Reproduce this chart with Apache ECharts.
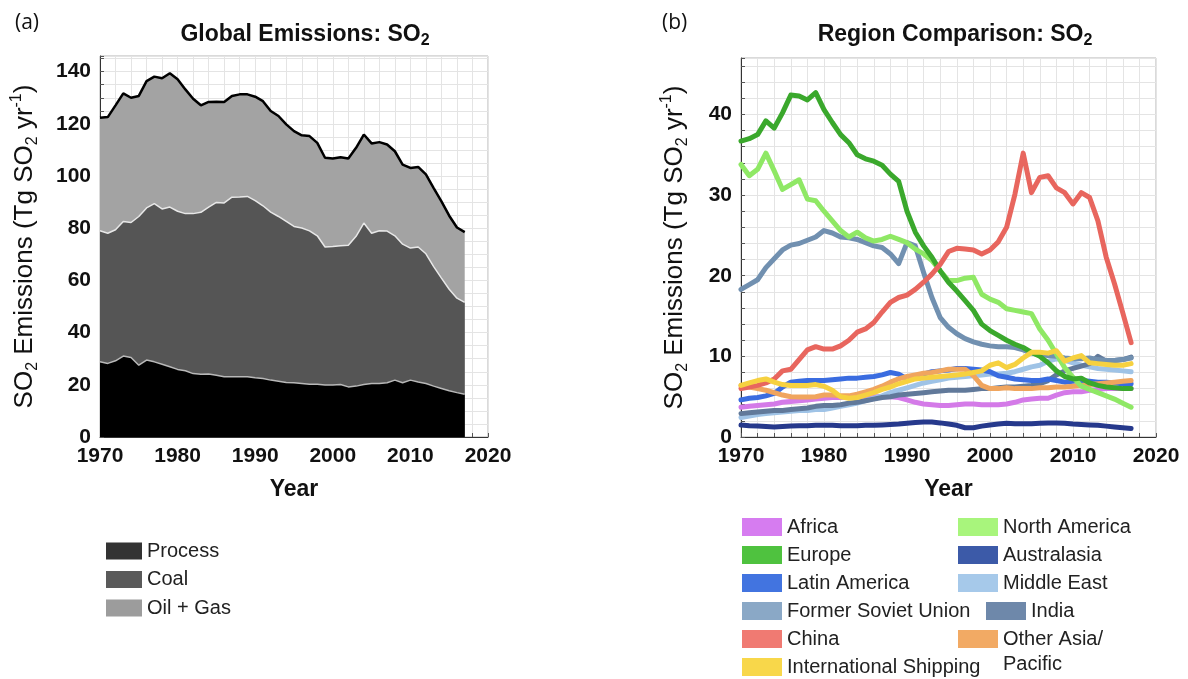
<!DOCTYPE html>
<html><head><meta charset="utf-8">
<script src="https://cdn.jsdelivr.net/npm/echarts@6/dist/echarts.min.js"></script>
<style>html,body{margin:0;padding:0;background:#fff}#c{width:1188px;height:679px}</style>
</head><body><div id="c"></div>
<script>
const years = [1970,1971,1972,1973,1974,1975,1976,1977,1978,1979,1980,1981,1982,1983,1984,1985,1986,1987,1988,1989,1990,1991,1992,1993,1994,1995,1996,1997,1998,1999,2000,2001,2002,2003,2004,2005,2006,2007,2008,2009,2010,2011,2012,2013,2014,2015,2016,2017];

// Panel (a): global emissions by source (Tg SO2/yr), stacked
const processVals = [28.8,28.2,29.2,31.0,30.5,27.5,29.5,28.8,27.9,26.9,25.9,25.4,24.3,24.0,24.1,23.7,23.1,23.1,23.1,23.1,22.7,22.4,21.8,21.4,20.9,20.8,20.5,20.2,20.2,19.9,19.9,20.1,19.2,19.5,20.1,20.5,20.5,20.8,21.8,20.8,21.8,21.1,20.5,19.5,18.6,17.7,17.0,16.4];
const coalVals = [50.2,49.9,50.2,51.6,51.7,57.0,58.3,60.6,59.5,61.2,60.6,60.2,61.3,62.1,64.0,66.2,66.6,68.8,68.9,69.1,67.9,66.2,64.4,63.1,61.7,59.9,59.6,58.8,56.9,52.9,53.1,53.2,54.3,57.4,61.9,57.6,58.5,58.1,55.3,53.1,50.6,51.7,49.7,45.8,42.3,38.9,36.2,35.2];
const oilGasVals = [43.3,44.5,47.7,49.1,47.8,46.2,48.6,48.7,50.1,51.3,50.6,47.6,44.0,41.0,40.3,38.6,38.7,38.8,39.3,39.1,39.8,40.1,38.7,38.5,37.2,36.5,35.5,36.3,35.6,34.2,33.7,33.9,33.2,33.9,33.9,34.4,34.0,33.2,32.4,30.5,30.7,30.7,30.4,30.1,29.4,28.2,27.1,26.9];

// Panel (b): regions (Tg SO2/yr)
const africa = [3.7,3.8,3.9,4.0,4.1,4.3,4.4,4.5,4.6,4.7,4.8,4.9,4.9,5.0,5.0,5.0,5.0,5.0,5.0,4.9,4.6,4.3,4.1,4.0,3.9,3.9,4.0,4.1,4.1,4.0,4.0,4.0,4.1,4.3,4.6,4.7,4.8,4.8,5.2,5.5,5.6,5.6,5.8,5.9,6.0,6.0,6.0,6.0];
const europe = [36.7,37.0,37.5,39.2,38.3,40.2,42.4,42.3,41.8,42.7,40.6,39.0,37.5,36.5,35.0,34.5,34.2,33.7,32.6,31.7,28.0,25.4,23.7,22.3,20.6,19.2,18.1,16.9,15.7,14.0,13.2,12.6,12.0,11.5,11.1,10.5,10.0,9.2,8.2,7.5,7.2,7.3,6.7,6.4,6.2,6.1,6.0,6.0];
const latinAmerica = [4.6,4.8,4.9,5.1,5.4,6.2,6.8,6.9,7.0,7.0,7.0,7.1,7.2,7.3,7.3,7.4,7.5,7.7,8.0,7.8,7.2,7.5,7.8,8.1,8.2,8.3,8.5,8.5,8.4,8.3,8.1,7.6,7.4,7.2,7.1,7.0,7.0,7.2,7.0,6.8,6.9,7.0,6.9,6.8,6.8,6.7,6.6,6.6];
const formerSovietUnion = [18.3,18.9,19.5,21.0,22.1,23.2,23.8,24.0,24.4,24.8,25.6,25.3,24.8,24.7,24.5,24.1,23.7,23.5,22.7,21.5,24.1,23.7,20.4,17.3,14.8,13.6,12.8,12.2,11.8,11.5,11.3,11.2,11.2,11.1,10.8,10.4,10.2,10.1,10.0,9.8,9.7,9.7,9.8,9.6,9.5,9.5,9.6,9.8];
const china = [6.0,6.2,6.4,6.7,7.2,8.2,8.4,9.6,10.8,11.2,10.9,10.9,11.3,12.0,13.0,13.4,14.2,15.5,16.7,17.3,17.6,18.3,19.2,20.2,21.4,23.0,23.4,23.3,23.2,22.7,23.2,24.2,26.0,30.1,35.2,30.3,32.2,32.4,30.9,30.3,28.9,30.3,29.7,26.8,22.3,19.0,15.4,11.7];
const intlShipping = [6.4,6.7,7.0,7.2,6.8,6.5,6.4,6.4,6.4,6.5,6.3,5.8,5.0,4.8,4.9,5.2,5.5,5.9,6.2,6.6,6.9,7.2,7.3,7.4,7.5,7.6,7.7,7.8,8.0,8.2,8.9,9.2,8.6,9.0,9.8,10.5,10.5,10.4,10.7,9.4,9.8,10.1,9.2,9.1,9.0,8.9,8.9,9.1];
const northAmerica = [33.8,32.4,33.2,35.2,33.0,30.7,31.3,31.9,29.5,29.3,28.0,26.8,25.6,24.8,25.4,24.7,24.3,24.5,24.9,24.5,24.1,23.3,22.7,21.9,20.6,19.4,19.4,19.7,19.8,17.7,17.1,16.7,15.9,15.7,15.5,15.3,13.4,12.0,10.3,8.6,7.4,6.3,5.9,5.5,5.1,4.7,4.2,3.7];
const australasia = [1.5,1.4,1.35,1.3,1.25,1.3,1.35,1.4,1.4,1.45,1.45,1.45,1.4,1.4,1.4,1.45,1.45,1.5,1.55,1.6,1.7,1.8,1.85,1.85,1.75,1.6,1.45,1.15,1.15,1.35,1.5,1.6,1.7,1.65,1.65,1.65,1.7,1.75,1.75,1.7,1.6,1.55,1.5,1.45,1.35,1.25,1.15,1.05];
const middleEast = [2.4,2.6,2.8,2.9,3.0,3.1,3.2,3.3,3.3,3.4,3.4,3.6,3.8,4.0,4.2,4.5,4.8,5.1,5.5,5.8,6.1,6.4,6.7,6.9,7.1,7.3,7.4,7.5,7.6,7.7,7.8,7.8,7.9,8.1,8.4,8.7,8.9,9.4,9.7,9.5,9.2,8.9,8.7,8.5,8.4,8.3,8.2,8.1];
const india = [2.9,3.0,3.1,3.2,3.3,3.3,3.4,3.5,3.6,3.8,3.9,3.9,4.0,4.2,4.3,4.5,4.7,4.9,5.0,5.2,5.3,5.4,5.5,5.6,5.7,5.8,5.8,5.8,5.9,6.0,6.0,6.1,6.2,6.2,6.3,6.4,6.6,7.0,7.7,8.2,8.5,8.8,9.1,10.0,9.4,9.5,9.6,9.9];
const otherAsiaPacific = [6.4,6.2,6.0,5.8,5.5,5.2,5.0,4.95,4.95,5.0,5.2,5.2,5.1,5.1,5.3,5.6,5.9,6.3,6.8,7.2,7.5,7.7,7.9,8.0,8.2,8.4,8.4,8.4,7.6,6.4,6.0,6.0,6.1,6.0,6.0,6.0,6.1,6.1,6.2,6.2,6.3,6.4,6.5,6.6,6.7,6.8,6.9,7.0];

// tick labels
const xTickLabels = [1970,1980,1990,2000,2010,2020];
const yTickLabelsA = [0,20,40,60,80,100,120,140];
const yTickLabelsB = [0,10,20,30,40];

const FONT = "'Liberation Sans', Arial, Helvetica, sans-serif";
const pair = arr => years.map((y, i) => [y, arr[i]]);
// cumulative tops of the stacked layers (Process, Process+Coal, total)
const cumProcess = processVals.slice();
const cumCoal = processVals.map((v, i) => +(v + coalVals[i]).toFixed(2));
const cumTotal = cumCoal.map((v, i) => +(v + oilGasVals[i]).toFixed(2));

const nameRich = {
  n: {fontSize: 26, fontFamily: FONT, color: '#111', lineHeight: 32},
  s: {fontSize: 16, fontFamily: FONT, color: '#111', lineHeight: 16, verticalAlign: 'bottom'},
  p: {fontSize: 16, fontFamily: FONT, color: '#111', lineHeight: 16, verticalAlign: 'top'}
};
const titleRich = {
  n: {fontSize: 23, fontWeight: 'bold', fontFamily: FONT, color: '#111', lineHeight: 29},
  s: {fontSize: 16, fontWeight: 'bold', fontFamily: FONT, color: '#111', lineHeight: 15, verticalAlign: 'bottom'}
};
const yName = '{n|SO}{s|2}{n| Emissions (Tg SO}{s|2}{n| yr}{p|-1}{n|)}';

function xAxisCfg(gi) {
  return {
    type: 'value', gridIndex: gi, min: 1970, max: 2020, interval: 2,
    axisLine: {show: true, onZero: false, lineStyle: {color: '#333', width: 1}},
    axisTick: {show: true, inside: true, length: 4, lineStyle: {color: '#555'}},
    axisLabel: {formatter: v => xTickLabels.includes(v) ? String(v) : '', fontSize: 21, fontWeight: 'bold', color: '#111', fontFamily: FONT, margin: 9, showMinLabel: true, showMaxLabel: true},
    splitLine: {show: true, lineStyle: {color: '#e4e4e4', width: 1}},
    name: 'Year', nameLocation: 'middle', nameGap: 41,
    nameTextStyle: {fontSize: 23, fontWeight: 'bold', color: '#111', fontFamily: FONT}
  };
}
function yAxisCfg(gi, max, step, labels, gap) {
  return {
    type: 'value', gridIndex: gi, min: 0, max: max, interval: step,
    axisLine: {show: true, lineStyle: {color: '#333', width: 1}},
    axisTick: {show: true, inside: true, length: 4, lineStyle: {color: '#555'}},
    axisLabel: {formatter: v => labels.includes(v) ? String(v) : '', fontSize: 21, fontWeight: 'bold', color: '#111', fontFamily: FONT, margin: 9},
    splitLine: {show: true, lineStyle: {color: '#e4e4e4', width: 1}},
    name: yName, nameLocation: 'middle', nameGap: gap,
    nameTextStyle: {rich: nameRich}
  };
}

const regionDefs = [
  ['Africa', africa, '#d47ae8', '#d67cf0'],
  ['Australasia', australasia, '#26398c', '#3c5aa8'],
  ['Middle East', middleEast, '#9fc3e6', '#a6c9ea'],
  ['India', india, '#61799a', '#6e88aa'],
  ['Latin America', latinAmerica, '#3a6ce0', '#4274e0'],
  ['Former Soviet Union', formerSovietUnion, '#7190b0', '#8aa8c6'],
  ['Other Asia/Pacific', otherAsiaPacific, '#f0a55e', '#f2aa64'],
  ['North America', northAmerica, '#8fe865', '#a8f57c'],
  ['Europe', europe, '#3aa82c', '#4fc23f'],
  ['China', china, '#e8665e', '#f07a72'],
  ['International Shipping', intlShipping, '#f6d140', '#f8d74a']
];
const legendColor = {};
regionDefs.forEach(d => legendColor[d[0]] = d[3]);
const legItem = n => ({name: n, itemStyle: {color: legendColor[n], borderWidth: 0}});

const regionSeries = regionDefs.map(d => ({
  name: d[0], type: 'line', xAxisIndex: 1, yAxisIndex: 1, data: pair(d[1]),
  symbol: 'none', color: d[2], lineStyle: {width: 5, color: d[2], cap: 'round', join: 'round'},
  emphasis: {disabled: true}, silent: true
}));

const legendBase = {
  orient: 'vertical', padding: 0, icon: 'rect', itemWidth: 40, itemHeight: 18, itemGap: 8,
  selectedMode: false, textStyle: {fontSize: 20, fontFamily: FONT, color: '#222', lineHeight: 20}
};

const option = {
  animation: false,
  backgroundColor: '#fff',
  title: [
    {text: '(a)', left: 10, top: 8, textStyle: {fontSize: 21, fontWeight: 'normal', fontFamily: "'Open Sans', sans-serif", color: '#111'}},
    {text: '(b)', left: 657, top: 8, textStyle: {fontSize: 21, fontWeight: 'normal', fontFamily: "'Open Sans', sans-serif", color: '#111'}},
    {text: '{n|Global Emissions: SO}{s|2}', left: 300, textAlign: 'center', top: 15, textStyle: {rich: titleRich}},
    {text: '{n|Region Comparison: SO}{s|2}', left: 950, textAlign: 'center', top: 15, textStyle: {rich: titleRich}}
  ],
  grid: [
    {left: 100, top: 56, width: 388, height: 381, show: true, borderColor: '#b5b5b5', borderWidth: 1, backgroundColor: 'transparent'},
    {left: 741, top: 58, width: 415, height: 379, show: true, borderColor: '#b5b5b5', borderWidth: 1, backgroundColor: 'transparent'}
  ],
  xAxis: [xAxisCfg(0), xAxisCfg(1)],
  yAxis: [yAxisCfg(0, 146, 5, yTickLabelsA, 59), yAxisCfg(1, 47, 2, yTickLabelsB, 50)],
  legend: [
    Object.assign({}, legendBase, {left: 106, top: 541, itemWidth: 36, itemHeight: 17, itemGap: 8.5,
      data: [{name: 'Process', itemStyle: {color: '#333333'}}, {name: 'Coal', itemStyle: {color: '#5a5a5a'}}, {name: 'Oil + Gas', itemStyle: {color: '#9c9c9c'}}]}),
    Object.assign({}, legendBase, {left: 742, top: 517,
      data: ['Africa', 'Europe', 'Latin America', 'Former Soviet Union', 'China', 'International Shipping'].map(legItem)}),
    Object.assign({}, legendBase, {left: 958, top: 517,
      data: ['North America', 'Australasia', 'Middle East'].map(legItem)}),
    Object.assign({}, legendBase, {left: 986, top: 601, data: ['India'].map(legItem)}),
    Object.assign({}, legendBase, {left: 958, top: 629, data: ['Other Asia/Pacific'].map(legItem),
      formatter: n => 'Other Asia/'})
  ],
  graphic: [
    {type: 'text', left: 1003, top: 654, style: {text: 'Pacific', font: "20px 'Liberation Sans', Arial, sans-serif", fill: '#222'}}
  ],
  series: [
    {name: 'Oil + Gas', type: 'line', xAxisIndex: 0, yAxisIndex: 0, data: pair(cumTotal), z: 2,
      symbol: 'none', color: '#a3a3a3', lineStyle: {color: '#000', width: 2.5}, areaStyle: {color: '#a3a3a3', opacity: 1}, silent: true},
    {name: 'Coal', type: 'line', xAxisIndex: 0, yAxisIndex: 0, data: pair(cumCoal), z: 3,
      symbol: 'none', color: '#555555', lineStyle: {color: '#e8e8e8', width: 1.5}, areaStyle: {color: '#555555', opacity: 1}, silent: true},
    {name: 'Process', type: 'line', xAxisIndex: 0, yAxisIndex: 0, data: pair(cumProcess), z: 4,
      symbol: 'none', color: '#000000', lineStyle: {color: '#b8b8b8', width: 1.5}, areaStyle: {color: '#000000', opacity: 1}, silent: true}
  ].concat(regionSeries)
};

const chart = echarts.init(document.getElementById('c'), null, {renderer: 'canvas'});
chart.setOption(option);
</script>
</body></html>
